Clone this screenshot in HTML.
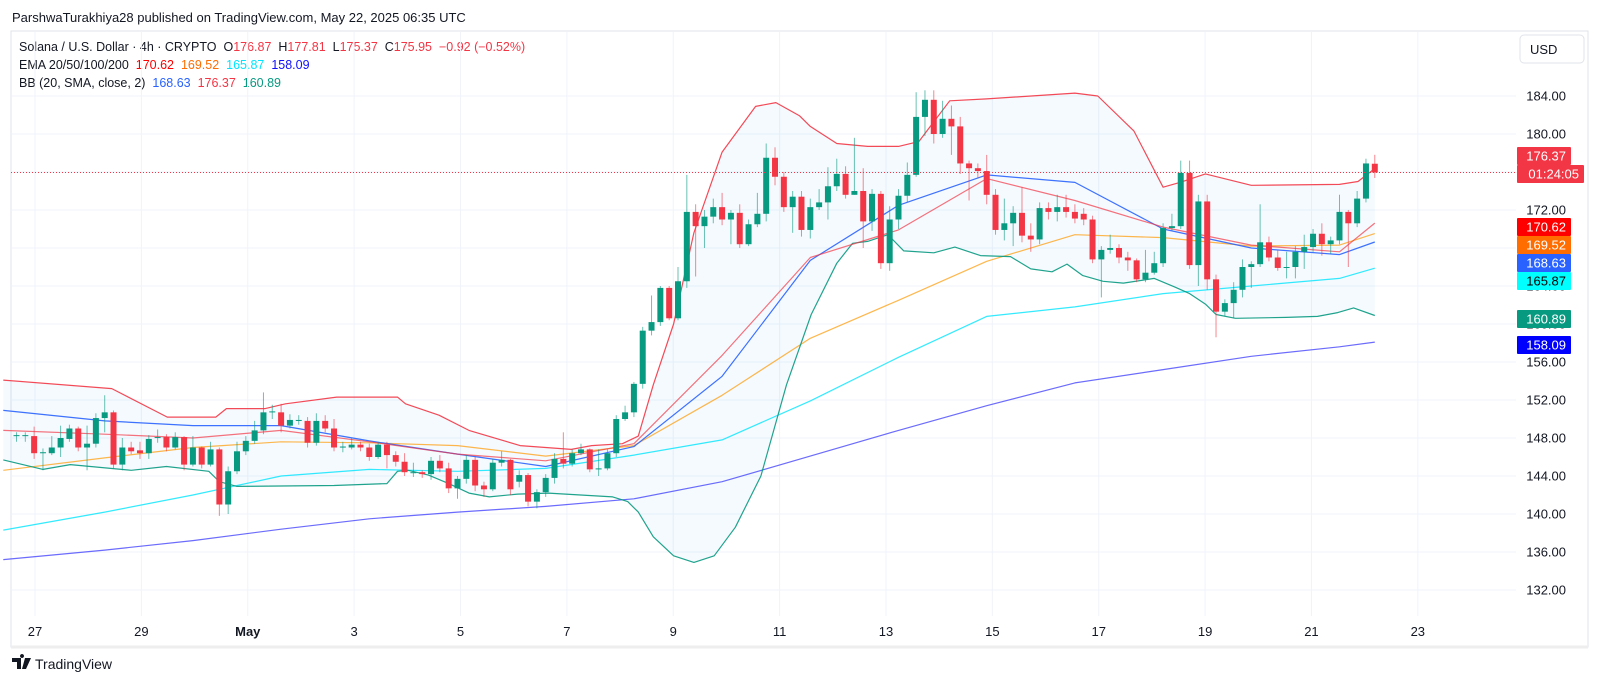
<!DOCTYPE html>
<html><head><meta charset="utf-8"><title>SOL/USD 4h chart</title>
<style>
html,body{margin:0;padding:0;background:#fff;}
body{width:1600px;height:685px;overflow:hidden;position:relative;font-family:"Liberation Sans",sans-serif;color:#131722;}
#hdr{position:absolute;left:12px;top:10px;font-size:13px;color:#131722;white-space:nowrap;}
.lg{position:absolute;left:19px;font-size:12.5px;white-space:nowrap;color:#131722;}
svg{position:absolute;left:0;top:0;}
</style></head>
<body>
<div id="hdr">ParshwaTurakhiya28 published on TradingView.com, May 22, 2025 06:35 UTC</div>
<div class="lg" style="top:40px">Solana / U.S. Dollar · 4h · CRYPTO&nbsp; O<span style="color:#f23645">176.87</span>&nbsp; H<span style="color:#f23645">177.81</span>&nbsp; L<span style="color:#f23645">175.37</span>&nbsp; C<span style="color:#f23645">175.95</span>&nbsp; <span style="color:#f23645">−0.92 (−0.52%)</span></div>
<div class="lg" style="top:58px">EMA 20/50/100/200&nbsp; <span style="color:#ff0000">170.62</span>&nbsp; <span style="color:#ff6d00">169.52</span>&nbsp; <span style="color:#00e5ff">165.87</span>&nbsp; <span style="color:#1010ff">158.09</span></div>
<div class="lg" style="top:76px">BB (20, SMA, close, 2)&nbsp; <span style="color:#2962ff">168.63</span>&nbsp; <span style="color:#f23645">176.37</span>&nbsp; <span style="color:#089981">160.89</span></div>
<svg id="chart" width="1600" height="685"></svg>
<script>
// ---- data ----
const dateLabels=["27","29","May","3","5","7","9","11","13","15","17","19","21","23"];
const dateTicks=[2.10,14.16,26.22,38.28,50.34,62.40,74.46,86.52,98.58,110.64,122.70,134.76,146.82,158.88];
const priceTicks=[184,180,176,172,168,164,160,156,152,148,144,140,136,132];
const opens=[148.2,148.2,148.2,146.4,146.4,147.0,147.9,149.0,147.0,147.4,
150.1,150.7,145.2,147.0,146.7,146.4,148.0,148.1,147.0,148.1,
145.2,147.0,145.2,146.8,141.0,144.5,146.6,147.7,148.8,150.7,
150.7,149.3,149.9,149.8,147.5,149.8,149.0,147.0,147.0,147.3,
147.0,146.0,147.3,146.2,145.5,144.4,144.4,144.2,145.6,144.8,
142.7,143.7,145.7,143.0,142.6,145.4,145.7,143.4,144.1,141.3,
142.3,143.8,145.8,145.3,146.4,146.8,144.8,144.8,146.4,150.0,
150.7,153.7,159.3,160.2,163.8,160.6,164.5,171.8,170.3,171.3,
172.3,171.0,171.7,168.4,170.5,171.6,177.5,175.5,172.3,173.4,
169.9,172.3,172.8,174.5,175.8,173.6,174.0,170.8,173.7,166.4,
171.0,173.5,175.7,181.8,183.6,180.0,181.6,180.8,176.9,176.4,
176.1,173.6,169.9,170.6,171.7,169.3,168.9,172.2,171.8,172.3,
171.8,171.6,171.0,166.8,167.8,168.0,167.0,166.7,164.7,165.4,
166.4,170.1,170.3,175.9,166.2,172.9,164.7,161.3,162.2,163.6,
166.0,166.3,168.6,167.0,166.0,166.0,167.6,168.1,169.5,168.4,
168.8,171.8,170.6,173.2,176.87];
const closes=[148.3,148.3,146.4,146.5,147.0,148.0,149.0,147.0,147.4,150.1,
150.7,145.2,147.0,146.6,146.4,147.9,148.1,147.0,148.1,145.2,
147.0,145.2,146.8,141.0,144.5,146.6,147.7,148.8,150.7,150.8,
149.3,149.9,149.9,147.5,149.8,149.0,147.0,147.1,147.3,147.0,
146.0,147.3,146.2,145.5,144.4,144.4,144.2,145.6,144.8,142.7,
143.7,145.7,143.0,142.6,145.4,145.7,142.6,144.1,141.3,142.3,
143.8,145.8,145.3,146.4,146.8,144.7,144.8,146.4,150.0,150.7,
153.7,159.3,160.2,163.8,160.6,164.5,171.8,170.3,171.3,172.3,
171.0,171.7,168.4,170.5,171.6,177.5,175.5,172.3,173.4,169.9,
172.3,172.8,174.5,175.8,173.6,174.0,170.8,173.7,166.4,171.0,
173.5,175.7,181.8,183.6,180.0,181.6,180.8,176.9,176.4,176.1,
173.6,169.9,170.6,171.7,169.3,168.9,172.2,171.8,172.3,171.8,
171.1,171.0,166.8,167.8,168.0,167.0,166.7,164.7,165.4,166.4,
170.1,170.3,175.9,166.2,172.9,164.7,161.3,162.2,163.6,166.0,
166.3,168.6,167.0,165.9,166.0,167.6,168.1,169.5,168.4,168.8,
171.8,170.6,173.2,176.9,175.95];
const highs=[148.6,148.6,149.2,146.9,148.2,149.3,149.4,149.2,149.3,150.6,
152.5,150.9,148.0,147.6,147.6,148.3,148.9,148.4,148.6,148.2,
148.2,147.1,147.6,147.0,145.0,147.6,148.2,149.8,152.8,151.5,
151.6,150.5,150.4,150.2,150.6,150.4,150.0,147.6,148.0,147.6,
147.4,147.6,147.6,146.6,146.4,145.4,144.6,146.0,146.2,145.4,
144.0,146.2,146.0,143.4,145.8,146.6,145.8,144.6,144.3,142.6,
144.2,146.4,148.6,146.8,147.4,146.9,146.8,146.8,150.4,151.4,
153.9,159.7,163.0,164.0,164.0,166.0,175.7,172.6,172.0,173.2,
173.8,172.0,172.6,171.0,173.8,179.0,178.6,176.0,174.0,174.0,
173.2,174.2,176.5,177.4,176.6,179.6,176.4,174.2,174.0,172.4,
174.2,177.0,184.4,184.6,184.6,183.5,183.0,181.8,177.2,176.9,
177.8,174.2,173.2,172.4,174.4,170.6,172.8,172.8,173.6,173.6,
172.6,172.2,171.4,168.2,169.4,168.4,167.6,166.9,167.8,167.6,
170.6,171.6,177.2,177.2,173.6,173.6,165.2,162.6,164.4,166.8,
166.6,172.6,169.2,167.8,167.6,168.2,169.4,170.0,170.6,169.2,
173.6,172.0,174.0,177.4,177.81];
const lows=[147.6,147.6,145.8,144.6,146.2,146.0,147.6,146.6,144.6,147.0,
148.6,144.8,144.6,146.3,145.8,145.8,147.5,146.6,146.8,144.6,
145.0,144.8,145.0,139.8,140.0,144.2,146.2,147.4,148.4,150.0,
148.6,149.0,149.4,147.0,147.2,148.6,146.6,146.5,146.8,146.6,
145.6,145.8,144.8,145.0,144.0,143.9,143.8,143.6,144.4,142.2,
141.6,143.2,142.4,141.8,142.4,145.0,142.0,142.8,140.8,140.6,
141.8,143.2,144.8,145.0,146.2,144.4,144.0,144.6,146.0,149.8,
150.2,153.2,158.8,159.8,160.4,160.4,163.8,165.0,168.0,170.6,
170.4,168.4,168.0,168.2,170.2,170.8,174.6,171.8,169.6,169.2,
169.0,172.0,171.0,174.0,173.2,173.6,168.0,169.8,165.8,165.6,
170.0,172.8,175.5,179.8,179.0,179.6,177.8,175.8,173.0,175.4,
172.6,169.4,168.8,168.2,168.6,167.6,168.4,171.0,170.8,171.2,
170.6,170.4,166.4,162.8,167.4,166.4,165.6,164.4,164.4,165.2,
166.0,169.8,170.0,165.8,164.0,163.6,158.6,160.8,160.6,162.8,
163.8,166.0,166.6,165.6,164.8,164.8,165.8,167.6,167.2,167.4,
168.4,166.0,170.2,172.8,175.37];
// indicator series (t = candle index)
const tGrid=[-1.5,10,20,30,40,50,60,70,80,90,100,110,120,130,140,150,154];
const ema200=[135.2,136.2,137.2,138.4,139.5,140.2,140.8,141.6,143.4,146.1,148.8,151.4,153.8,155.2,156.6,157.6,158.09];
const ema100=[138.3,140.2,142.0,144.0,144.7,144.5,144.8,146.2,147.8,151.9,156.5,160.8,161.8,163.2,164.0,164.8,165.87];
const ema50=[144.6,145.9,147.0,147.6,147.5,147.2,146.1,147.2,152.5,158.5,162.5,166.6,169.4,169.1,168.2,168.3,169.52];
const ema20=[148.8,148.4,148.0,148.8,147.6,146.3,145.6,147.4,156.7,167.0,169.9,175.3,173.0,170.2,168.3,167.6,170.62];
const bbBasis=[150.9,149.8,149.3,149.3,147.7,146.3,145.0,147.1,154.5,166.7,172.5,175.7,174.9,170.0,168.0,167.3,168.63];
const upperT=[-1.5,10.8,17.1,22.6,23.8,28.2,30.5,36.3,43.2,44.1,47.9,51.3,57.1,62.9,65.2,68.7,70.5,72.2,74.5,76.8,80,83.8,86.1,88.8,90,93,96.5,100,102.3,105.8,110,120,122.6,126.7,130,131.9,134.8,140,150,152.1,154];
const bbUpper=[154.1,153.2,150.2,150.2,151.1,151.1,151.6,152.3,152.3,151.6,150.4,148.8,147.2,146.8,147.2,147.4,148.2,153.6,160.0,169.6,178.1,182.9,183.3,181.9,180.8,179.0,178.7,178.7,179.2,183.5,183.7,184.3,184.0,180.3,174.4,174.9,175.8,174.6,174.7,175.0,176.37];
const lowerT=[-1.5,3,6.1,13,17,21.8,23,25,36,42,43.2,44.4,46.7,49,51.3,53.6,56.8,60.3,67.6,69.3,70.5,72.2,74.5,76.8,79.1,81.5,84.4,87.3,90.1,93,94.8,96.5,98.8,100.6,104,106.4,109.3,112.7,115,117.4,119.1,120.9,123.2,125.5,129,131.3,133,134.8,136,138.2,144,147.5,149.8,151.6,154];
const bbLower=[145.7,144.7,145.2,144.6,145.0,144.5,143.4,142.9,143.0,143.2,144.5,144.6,144.1,143.2,142.2,141.8,142.1,142.2,141.8,141.3,140.2,137.6,135.6,134.9,135.6,138.6,144.0,153.6,161.0,166.4,168.5,168.7,169.4,167.7,167.5,168.1,167.2,167.1,165.8,165.5,166.3,165.1,164.5,164.3,164.8,163.9,163.2,162.1,161.0,160.6,160.7,160.8,161.2,161.7,160.89];
const lastPrice=175.95;

// ---- scales ----
const X0=16.5, DX=8.82, PLOT_R=1516, PLOT_T=31, PLOT_B=616;
function xs(t){return X0+t*DX;}
function ys(p){return 96+(184-p)*9.5;}

const svg=document.getElementById('chart');
const NS='http://www.w3.org/2000/svg';
function mk(tag,attrs){const e=document.createElementNS(NS,tag);for(const k in attrs)e.setAttribute(k,attrs[k]);return e;}

// frame
const frame=mk('rect',{x:11,y:PLOT_T,width:1577,height:616,fill:'none',stroke:'#e0e3eb','stroke-width':1});


svg.appendChild(frame);
const bottomBar=mk('line',{x1:11,y1:647,x2:1588,y2:647,stroke:'#eeeeee','stroke-width':3});


svg.appendChild(bottomBar);

// grid
priceTicks.forEach(p=>{
  const g=mk('line',{x1:11,y1:ys(p),x2:PLOT_R,y2:ys(p),stroke:'#f0f3fa','stroke-width':1});
  
  
  svg.appendChild(g);
});
dateTicks.forEach(t=>{
  const g=mk('line',{x1:xs(t),y1:PLOT_T,x2:xs(t),y2:PLOT_B,stroke:'#f0f3fa','stroke-width':1});
  
  
  svg.appendChild(g);
});

// band fill
let bandD='M';
upperT.forEach((t,i)=>{bandD+=(i?'L':'')+xs(t).toFixed(1)+','+ys(bbUpper[i]).toFixed(1);});
for(let i=lowerT.length-1;i>=0;i--){bandD+='L'+xs(lowerT[i]).toFixed(1)+','+ys(bbLower[i]).toFixed(1);}
bandD+='Z';
const band=mk('path',{d:bandD,fill:'rgba(33,150,243,0.05)',stroke:'none'});


svg.appendChild(band);

function line(ts,vals,color,name,op){
  const pts=ts.map((t,i)=>xs(t).toFixed(1)+','+ys(vals[i]).toFixed(1)).join(' ');
  const pl=mk('polyline',{points:pts,fill:'none',stroke:color,'stroke-width':1.2,'stroke-opacity':op,'stroke-linejoin':'round'});
  
  
  svg.appendChild(pl);
}
line(tGrid,ema200,'#3a3aff','ema-200-line',0.75);
line(tGrid,ema100,'#00e5ff','ema-100-line',0.8);
line(tGrid,ema50,'#ff9800','ema-50-line',0.7);
line(upperT,bbUpper,'#f23645','bb-upper-line',0.9);
line(lowerT,bbLower,'#089981','bb-lower-line',0.9);
line(tGrid,bbBasis,'#2962ff','bb-basis-line',0.9);
line(tGrid,ema20,'#f23645','ema-20-line',0.7);

// candles
for(let i=0;i<closes.length;i++){
  const up=closes[i]>=opens[i];
  const col=up?'#089981':'#f23645';
  const cx=xs(i);
  const w=mk('line',{x1:cx,y1:ys(highs[i]),x2:cx,y2:ys(lows[i]),stroke:col,'stroke-width':1,'stroke-opacity':0.6});
  
  
  svg.appendChild(w);
  const top=ys(Math.max(opens[i],closes[i])), bot=ys(Math.min(opens[i],closes[i]));
  const b=mk('rect',{x:cx-3,y:top,width:6,height:Math.max(1,bot-top),fill:col});
  
  
  svg.appendChild(b);
}

// last price line
const lp=mk('line',{x1:11,y1:ys(lastPrice),x2:1518,y2:ys(lastPrice),stroke:'#f23645','stroke-width':1,'stroke-dasharray':'1 2'});


svg.appendChild(lp);

// price labels
priceTicks.forEach(p=>{
  const tx=mk('text',{x:1566,y:ys(p)+4.5,'text-anchor':'end','font-size':13,fill:'#131722','font-family':'Liberation Sans, sans-serif'});
  tx.textContent=p.toFixed(2);
  
  
  svg.appendChild(tx);
});
// date labels
dateTicks.forEach((t,i)=>{
  const tx=mk('text',{x:xs(t),y:636,'text-anchor':'middle','font-size':13,fill:'#131722','font-weight':dateLabels[i]==='May'?'bold':'normal','font-family':'Liberation Sans, sans-serif'});
  tx.textContent=dateLabels[i];
  
  
  svg.appendChild(tx);
});

// axis value tags
const tagY=[147,218,236,254,272,310,336];
const tagTxt=['176.37','170.62','169.52','168.63','165.87','160.89','158.09'];
const tagBg=['#f23645','#ff0000','#ff6d00','#2962ff','#00ffff','#089981','#0000ff'];
const tagFg=['#fff','#fff','#fff','#fff','#000','#fff','#fff'];
tagTxt.forEach((s,i)=>{
  const r=mk('rect',{x:1517,y:tagY[i],width:54,height:18,fill:tagBg[i],rx:1});
  
  
  svg.appendChild(r);
  const tx=mk('text',{x:1566,y:tagY[i]+13.5,'text-anchor':'end','font-size':13,fill:tagFg[i],'font-family':'Liberation Sans, sans-serif'});
  tx.textContent=s;
  
  
  svg.appendChild(tx);
});
const cd=mk('rect',{x:1517,y:165,width:67,height:18,fill:'#f23645',rx:1});


svg.appendChild(cd);
const cdt=mk('text',{x:1579,y:178.5,'text-anchor':'end','font-size':13,fill:'#fff','font-family':'Liberation Sans, sans-serif'});
cdt.textContent='01:24:05';


svg.appendChild(cdt);

// USD button
const ub=mk('rect',{x:1520,y:35,width:64,height:28,fill:'#fff',stroke:'#e0e3eb',rx:4});


svg.appendChild(ub);
const ut=mk('text',{x:1530,y:54,'font-size':13,fill:'#131722','font-family':'Liberation Sans, sans-serif'});
ut.textContent='USD';


svg.appendChild(ut);

// footer logo
const mark=mk('path',{d:'M12 658h9v11h-4v-7h-5z M22 658a2 2 0 1 1 0.01 0z M25 658h6l-5 11h-4z',fill:'#131722'});


svg.appendChild(mark);
const lg=mk('text',{x:35,y:669,'font-size':14,fill:'#131722','font-family':'Liberation Sans, sans-serif'});
lg.textContent='TradingView';


svg.appendChild(lg);
</script>
</body></html>
